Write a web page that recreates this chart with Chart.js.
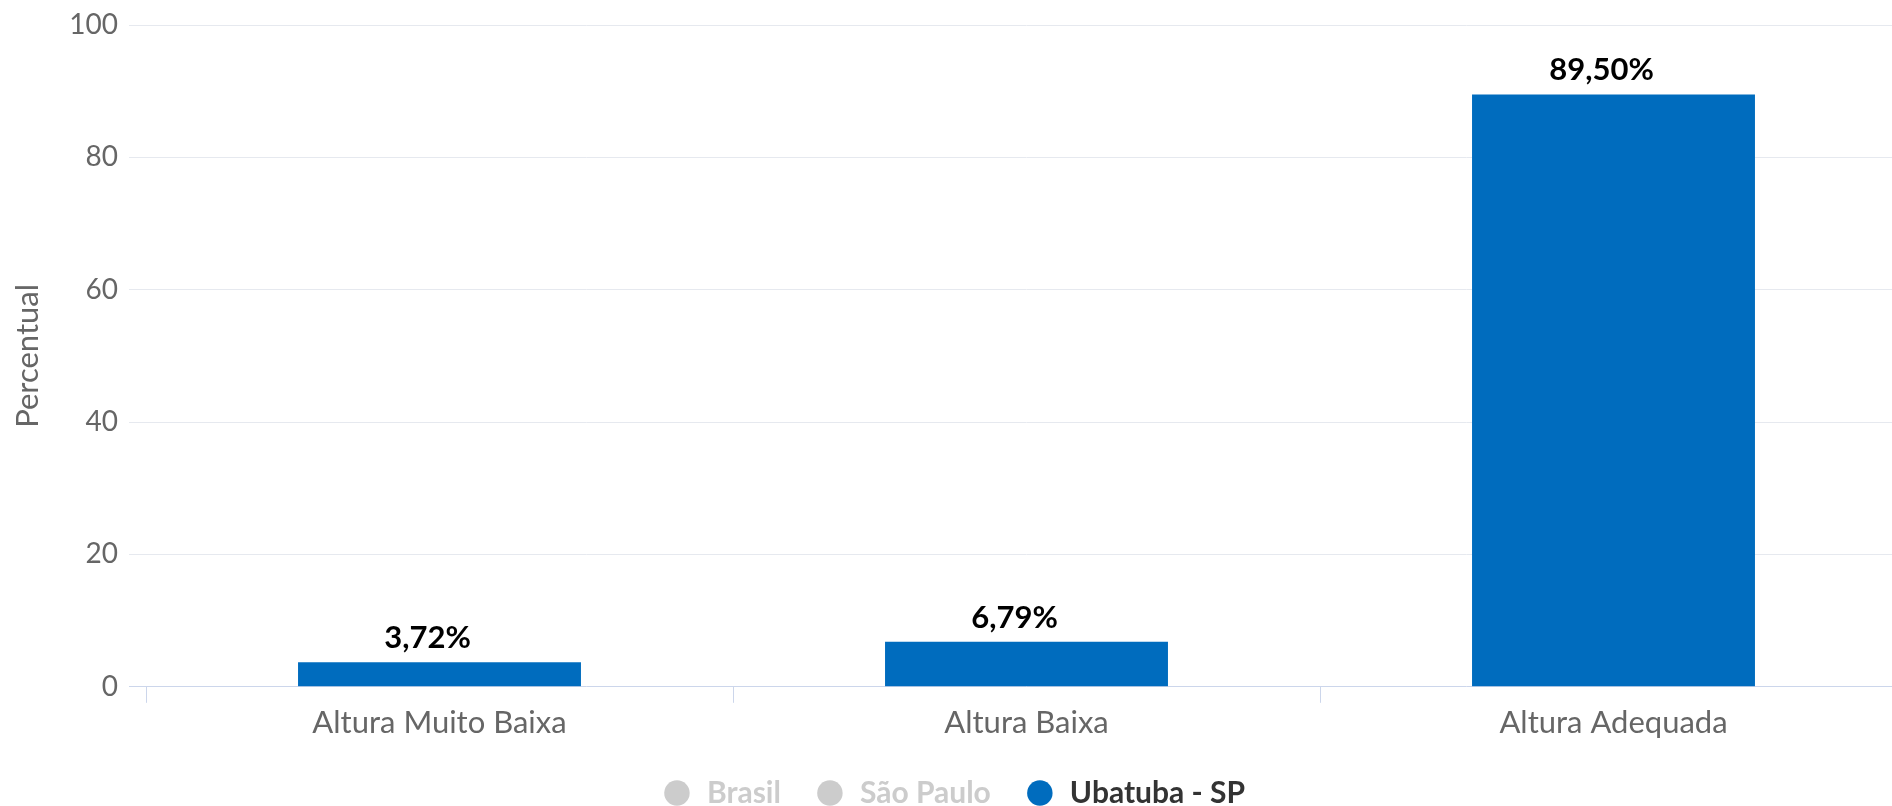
<!DOCTYPE html>
<html lang="pt-BR">
<head>
<meta charset="utf-8">
<title>Percentual por altura</title>
<script src="https://cdn.jsdelivr.net/npm/chart.js@4.4.1/dist/chart.umd.min.js"></script>
<style>
  html, body { margin: 0; padding: 0; background: #fff; overflow: hidden; }
  #wrap { position: relative; width: 1910px; height: 806px; }
</style>
</head>
<body>
<div id="wrap"><canvas id="chart"></canvas></div>
<script>
// Chart data
const categories = ['Altura Muito Baixa', 'Altura Baixa', 'Altura Adequada'];
const seriesNames = ['Brasil', 'São Paulo', 'Ubatuba - SP'];
const brasilValues = [];    // series switched off in the legend, values not shown
const saoPauloValues = [];
const ubatubaValues = [3.72, 6.79, 89.5];
const yTicks = [0, 20, 40, 60, 80, 100];
const axisTitle = 'Percentual';

const BLUE = '#006cbe';
const OFF = '#cccccc';

function formatPct(v) {
  return v.toFixed(2).replace('.', ',') + '%';
}

// Value labels above each visible bar (sit a little left of centre, as in the source)
const barValueLabels = {
  id: 'barValueLabels',
  afterDatasetsDraw(chart) {
    const { ctx } = chart;
    ctx.save();
    ctx.font = 'bold 31px Lato';
    ctx.fillStyle = '#000';
    ctx.textAlign = 'center';
    ctx.textBaseline = 'alphabetic';
    chart.data.datasets.forEach((ds, i) => {
      if (!chart.isDatasetVisible(i)) return;
      chart.getDatasetMeta(i).data.forEach((bar, j) => {
        const v = ds.data[j];
        if (v == null) return;
        ctx.fillText(formatPct(v), bar.x - 12, bar.y - 14);
      });
    });
    ctx.restore();
  },
};

Chart.defaults.font.family = 'Lato, "Open Sans", sans-serif';

new Chart(document.getElementById('chart'), {
  type: 'bar',
  data: {
    labels: categories,
    datasets: [
      { label: seriesNames[0], data: brasilValues, backgroundColor: '#8a8a8a', hidden: true },
      { label: seriesNames[1], data: saoPauloValues, backgroundColor: '#5a5a5a', hidden: true },
      { label: seriesNames[2], data: ubatubaValues, backgroundColor: BLUE },
    ],
  },
  options: {
    responsive: true,
    maintainAspectRatio: false,
    animation: false,
    layout: { padding: { top: 22, right: 3, left: 0, bottom: -12 } },
    datasets: {
      bar: { categoryPercentage: 1, barPercentage: 0.482 },
    },
    scales: {
      x: {
        offset: true,
        grid: {
          offset: true,
          drawOnChartArea: false,
          drawTicks: true,
          tickLength: 16,
          color: '#ccd6eb',
        },
        border: { display: false },
        ticks: {
          color: '#666666',
          font: { size: 31 },
          padding: 2,
          maxRotation: 0,
        },
      },
      y: {
        min: 0,
        max: 100,
        afterBuildTicks(scale) {
          scale.ticks = yTicks.map((value) => ({ value }));
        },
        afterFit(scale) {
          scale.width = 146;
        },
        grid: {
          tickLength: 17,
          color(c) {
            return c.tick && c.tick.value === 0 ? '#ccd6eb' : '#e6e9ef';
          },
        },
        border: { display: false },
        ticks: {
          color: '#666666',
          font: { size: 28, lineHeight: 1 },
          padding: 11,
        },
        title: {
          display: true,
          text: axisTitle,
          color: '#666666',
          font: { size: 31 },
          padding: { top: 9, bottom: 0 },
        },
      },
    },
    plugins: {
      tooltip: { enabled: false },
      legend: {
        position: 'bottom',
        labels: {
          usePointStyle: true,
          boxHeight: 18,
          padding: 34,
          font: { size: 30, weight: 'bold' },
          generateLabels(chart) {
            return chart.data.datasets.map((ds, i) => {
              const off = !chart.isDatasetVisible(i);
              return {
                text: ds.label,
                fillStyle: off ? OFF : ds.backgroundColor,
                strokeStyle: off ? OFF : ds.backgroundColor,
                lineWidth: 0,
                fontColor: off ? OFF : '#333333',
                hidden: false,
                pointStyle: 'circle',
                datasetIndex: i,
              };
            });
          },
        },
      },
    },
  },
  plugins: [barValueLabels],
});
</script>
</body>
</html>
